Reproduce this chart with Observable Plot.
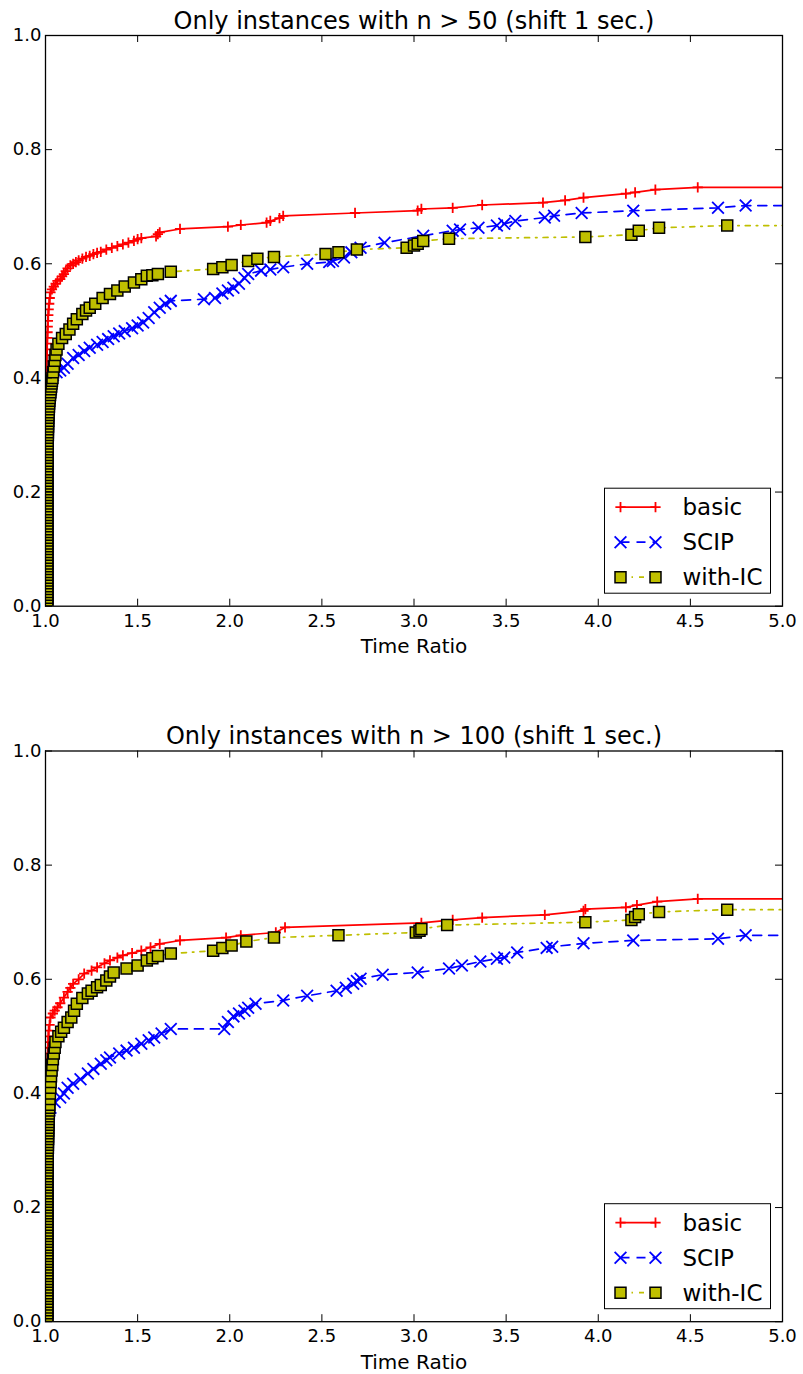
<!DOCTYPE html>
<html><head><meta charset="utf-8">
<script src="https://cdn.jsdelivr.net/npm/d3@7"></script>
<script src="https://cdn.jsdelivr.net/npm/@observablehq/plot@0.6"></script>
<style>body{margin:0;background:#fff}svg{display:block}</style>
</head><body><div id="chart"></div>
<script>
const xTicks = [1.0, 1.5, 2.0, 2.5, 3.0, 3.5, 4.0, 4.5, 5.0];
const yTicks = [0.0, 0.2, 0.4, 0.6, 0.8, 1.0];
const seriesNames = ["basic", "SCIP", "with-IC"];
const titles = ["Only instances with n > 50 (shift 1 sec.)", "Only instances with n > 100 (shift 1 sec.)"];
const xLabel = "Time Ratio";

// Panel 1: n > 50
const top_basic = [[1,0],[1,.04],[1,.08],[1,.12],[1,.16],[1,.2],[1,.24],[1,.28],[1,.32],[1,.36],[1.002,.39],[1.003,.40],[1.004,.41],[1.005,.42],[1.006,.43],[1.007,.44],[1.008,.45],[1.009,.46],[1.01,.47],[1.011,.48],[1.012,.49],[1.013,.50],[1.015,.51],[1.017,.52],[1.02,.53],[1.023,.54],[1.027,.55],[1.035,.555],[1.045,.56],[1.055,.565],[1.065,.57],[1.08,.573],[1.09,.578],[1.1,.582],[1.11,.587],[1.12,.592],[1.135,.597],[1.15,.60],[1.165,.603],[1.18,.606],[1.2,.609],[1.22,.612],[1.24,.614],[1.26,.617],[1.28,.619],[1.3,.621],[1.33,.625],[1.36,.628],[1.39,.631],[1.42,.634],[1.45,.637],[1.48,.64],[1.5,.643],[1.52,.645],[1.6,.648],[1.61,.652],[1.62,.655],[1.73,.661],[1.99,.665],[2.06,.668],[2.2,.672],[2.22,.675],[2.27,.68],[2.29,.684],[2.68,.689],[3.02,.693],[3.04,.696],[3.21,.698],[3.37,.703],[3.70,.707],[3.82,.711],[3.92,.716],[4.15,.723],[4.20,.725],[4.31,.730],[4.54,.734]];
const top_scip = [[1,0],[1,.05],[1,.1],[1,.15],[1,.2],[1,.25],[1,.3],[1.005,.35],[1.01,.38],[1.02,.395],[1.04,.405],[1.06,.41],[1.08,.413],[1.1,.418],[1.12,.425],[1.15,.435],[1.18,.44],[1.21,.447],[1.24,.453],[1.28,.458],[1.31,.463],[1.34,.468],[1.37,.473],[1.4,.478],[1.43,.482],[1.47,.487],[1.5,.492],[1.53,.497],[1.56,.505],[1.59,.515],[1.62,.523],[1.65,.53],[1.68,.535],[1.86,.538],[1.92,.54],[1.96,.548],[1.99,.553],[2.02,.558],[2.05,.565],[2.08,.575],[2.1,.582],[2.17,.588],[2.22,.59],[2.29,.594],[2.42,.60],[2.54,.603],[2.56,.605],[2.62,.611],[2.66,.62],[2.71,.628],[2.84,.637],[3.05,.649],[3.21,.658],[3.25,.66],[3.35,.663],[3.45,.667],[3.49,.670],[3.55,.675],[3.71,.681],[3.76,.684],[3.91,.689],[4.19,.693],[4.65,.698],[4.80,.702]];
const top_ic = [[1.01,0],[1.01,.005],[1.01,.01],[1.01,.015],[1.01,.02],[1.01,.025],[1.01,.03],[1.01,.035],[1.01,.04],[1.01,.045],[1.01,.05],[1.01,.055],[1.01,.06],[1.01,.065],[1.01,.07],[1.01,.075],[1.01,.08],[1.01,.085],[1.01,.09],[1.01,.095],[1.01,.10],[1.01,.105],[1.01,.11],[1.01,.115],[1.01,.12],[1.01,.125],[1.01,.13],[1.01,.135],[1.01,.14],[1.01,.145],[1.01,.15],[1.01,.155],[1.01,.16],[1.01,.165],[1.01,.17],[1.01,.175],[1.01,.18],[1.01,.185],[1.01,.19],[1.01,.195],[1.01,.20],[1.01,.205],[1.01,.21],[1.01,.215],[1.01,.22],[1.01,.225],[1.01,.23],[1.01,.235],[1.01,.24],[1.01,.245],[1.01,.25],[1.011,.255],[1.011,.26],[1.011,.265],[1.011,.27],[1.011,.275],[1.012,.28],[1.012,.285],[1.012,.29],[1.012,.295],[1.013,.30],[1.013,.305],[1.013,.31],[1.014,.315],[1.014,.32],[1.015,.325],[1.015,.33],[1.016,.335],[1.017,.34],[1.018,.345],[1.019,.35],[1.02,.355],[1.021,.36],[1.023,.365],[1.025,.37],[1.027,.375],[1.029,.38],[1.031,.385],[1.033,.39],[1.035,.395],[1.038,.40],[1.041,.41],[1.045,.42],[1.05,.43],[1.054,.44],[1.06,.45],[1.07,.46],[1.09,.47],[1.11,.477],[1.13,.485],[1.15,.495],[1.17,.503],[1.2,.512],[1.22,.518],[1.24,.523],[1.27,.53],[1.31,.54],[1.35,.547],[1.39,.553],[1.43,.56],[1.48,.567],[1.52,.573],[1.55,.579],[1.58,.58],[1.61,.582],[1.68,.586],[1.91,.591],[1.96,.594],[2.01,.598],[2.10,.605],[2.15,.609],[2.24,.612],[2.52,.617],[2.59,.62],[2.69,.625],[2.96,.628],[3.00,.632],[3.02,.635],[3.05,.640],[3.19,.644],[3.93,.647],[4.18,.651],[4.22,.658],[4.33,.663],[4.70,.667]];

// Panel 2: n > 100
const bot_basic = [[1,0],[1,.04],[1,.08],[1,.12],[1,.16],[1,.2],[1,.24],[1,.28],[1,.32],[1,.36],[1.002,.39],[1.004,.41],[1.005,.42],[1.007,.43],[1.008,.44],[1.01,.45],[1.011,.46],[1.012,.47],[1.013,.48],[1.015,.49],[1.016,.50],[1.017,.51],[1.022,.52],[1.027,.533],[1.04,.54],[1.05,.545],[1.065,.551],[1.08,.558],[1.1,.568],[1.12,.578],[1.135,.585],[1.15,.592],[1.18,.60],[1.21,.61],[1.25,.615],[1.28,.621],[1.32,.628],[1.35,.633],[1.39,.638],[1.42,.642],[1.47,.646],[1.52,.65],[1.57,.656],[1.62,.662],[1.73,.668],[1.98,.673],[2.06,.677],[2.25,.682],[2.30,.691],[3.04,.699],[3.21,.704],[3.37,.708],[3.71,.713],[3.92,.720],[3.93,.723],[4.15,.726],[4.21,.73],[4.32,.736],[4.54,.741]];
const bot_scip = [[1,0],[1,.05],[1,.1],[1,.15],[1,.2],[1,.25],[1,.3],[1.01,.35],[1.02,.37],[1.027,.375],[1.05,.385],[1.08,.393],[1.1,.40],[1.12,.41],[1.15,.417],[1.19,.425],[1.23,.435],[1.26,.443],[1.3,.452],[1.33,.458],[1.35,.463],[1.4,.47],[1.44,.475],[1.48,.48],[1.52,.487],[1.56,.493],[1.59,.498],[1.63,.505],[1.68,.513],[1.97,.513],[1.99,.525],[2.02,.535],[2.05,.54],[2.08,.545],[2.1,.55],[2.14,.557],[2.29,.563],[2.42,.571],[2.58,.580],[2.63,.585],[2.67,.592],[2.69,.597],[2.71,.601],[2.83,.608],[3.02,.612],[3.19,.619],[3.26,.624],[3.36,.631],[3.45,.636],[3.49,.638],[3.56,.647],[3.72,.655],[3.75,.657],[3.92,.663],[4.19,.668],[4.65,.671],[4.80,.677]];
const bot_ic = [[1.01,0],[1.01,.005],[1.01,.01],[1.01,.015],[1.01,.02],[1.01,.025],[1.01,.03],[1.01,.035],[1.01,.04],[1.01,.045],[1.01,.05],[1.01,.055],[1.01,.06],[1.01,.065],[1.01,.07],[1.01,.075],[1.01,.08],[1.01,.085],[1.01,.09],[1.01,.095],[1.01,.10],[1.01,.105],[1.01,.11],[1.01,.115],[1.01,.12],[1.01,.125],[1.01,.13],[1.01,.135],[1.01,.14],[1.01,.145],[1.01,.15],[1.01,.155],[1.01,.16],[1.01,.165],[1.01,.17],[1.01,.175],[1.01,.18],[1.01,.185],[1.01,.19],[1.01,.195],[1.01,.20],[1.01,.205],[1.01,.21],[1.01,.215],[1.01,.22],[1.01,.225],[1.01,.23],[1.01,.235],[1.01,.24],[1.01,.245],[1.01,.25],[1.01,.255],[1.01,.26],[1.011,.265],[1.011,.27],[1.011,.275],[1.011,.28],[1.012,.285],[1.012,.29],[1.012,.295],[1.012,.30],[1.013,.305],[1.013,.31],[1.013,.315],[1.014,.32],[1.014,.325],[1.014,.33],[1.015,.335],[1.015,.34],[1.016,.345],[1.016,.35],[1.017,.355],[1.017,.36],[1.018,.365],[1.019,.37],[1.02,.375],[1.021,.38],[1.022,.39],[1.024,.40],[1.026,.41],[1.028,.42],[1.03,.43],[1.033,.44],[1.037,.45],[1.04,.46],[1.045,.47],[1.05,.48],[1.054,.49],[1.07,.50],[1.085,.508],[1.1,.515],[1.12,.525],[1.14,.533],[1.155,.545],[1.17,.557],[1.2,.567],[1.23,.575],[1.25,.58],[1.28,.586],[1.3,.59],[1.33,.598],[1.35,.605],[1.37,.612],[1.44,.619],[1.50,.624],[1.55,.633],[1.58,.637],[1.61,.641],[1.68,.645],[1.91,.650],[1.96,.655],[2.01,.659],[2.09,.666],[2.24,.673],[2.59,.677],[3.01,.682],[3.03,.685],[3.04,.688],[3.18,.695],[3.93,.700],[4.18,.704],[4.20,.709],[4.22,.714],[4.33,.718],[4.70,.722]];

const styles = [
  {stroke: "#ff0000", dash: null, symbol: "plus", sym: d3.symbolPlus, r: 3.4, fill: "none", mstroke: "#ff0000", mw: 1.8},
  {stroke: "#0000ff", dash: "9,7", symbol: "times", sym: d3.symbolTimes, r: 5.4, fill: "none", mstroke: "#0000ff", mw: 1.8},
  {stroke: "#bfbf00", dash: "5,6,1.5,6", symbol: "square", sym: d3.symbolSquare, r: 6.2, fill: "#bfbf00", mstroke: "#000000", mw: 1.5}
];

const W = 803, H = 687, ML = 45, MR = 21;
const font = "DejaVu Sans, Verdana, sans-serif";

function panel(title, seriesList, mt, mb) {
  const ph = H - mt - mb, pw = W - ML - MR;
  const xMax = xTicks[xTicks.length - 1];
  const marks = [];
  seriesList.forEach((s, i) => {
    const st = styles[i];
    const lineData = s.concat([[xMax, s[s.length - 1][1]]]);
    marks.push(Plot.line(lineData, {x: d => d[0], y: d => d[1], stroke: st.stroke, strokeWidth: 1.7, strokeDasharray: st.dash, clip: true}));
    marks.push(Plot.dot(s, {x: d => d[0], y: d => d[1], symbol: () => st.symbol, r: st.r, fill: st.fill, stroke: st.mstroke, strokeWidth: st.mw, clip: true}));
  });
  marks.push(Plot.frame({stroke: "black", strokeWidth: 1.3}));
  marks.push(Plot.tickX(xTicks, {x: d => d, insetTop: ph - 7, stroke: "black", strokeWidth: 1}));
  marks.push(Plot.tickX(xTicks, {x: d => d, insetBottom: ph - 7, stroke: "black", strokeWidth: 1}));
  marks.push(Plot.tickY(yTicks, {y: d => d, insetRight: pw - 7, stroke: "black", strokeWidth: 1}));
  marks.push(Plot.tickY(yTicks, {y: d => d, insetLeft: pw - 7, stroke: "black", strokeWidth: 1}));
  marks.push(Plot.axisX({ticks: xTicks, tickSize: 0, tickPadding: 8, tickFormat: d3.format(".1f"), label: null, fontSize: 18, fill: "black"}));
  marks.push(Plot.axisX({ticks: [], tickSize: 0, label: xLabel, labelAnchor: "center", labelArrow: "none", labelOffset: 47, fontSize: 20, fill: "black"}));
  marks.push(Plot.axisY({ticks: yTicks, tickSize: 0, tickPadding: 4, tickFormat: d3.format(".1f"), label: null, fontSize: 18, fill: "black"}));
  marks.push(Plot.text([title], {text: d => d, frameAnchor: "top", lineAnchor: "bottom", dy: -7, fontSize: 24, fill: "black"}));

  const svg = Plot.plot({
    width: W, height: H,
    marginLeft: ML, marginRight: MR, marginTop: mt, marginBottom: mb,
    x: {domain: [xTicks[0], xMax]},
    y: {domain: [yTicks[0], yTicks[yTicks.length - 1]]},
    style: {fontFamily: font, fontSize: "18px", color: "black", background: "white"},
    marks
  });

  // legend
  const fr = W - MR, fb = H - mb;
  const bw = 166, bh = 105;
  const bx = fr - 11.5 - bw, by = fb - 12.5 - bh;
  const g = d3.select(svg).append("g").attr("text-anchor", "start");
  g.append("rect").attr("x", bx).attr("y", by).attr("width", bw).attr("height", bh)
    .attr("fill", "white").attr("stroke", "black").attr("stroke-width", 1);
  seriesNames.forEach((name, i) => {
    const st = styles[i];
    const yy = by + 19 + i * 35;
    const x1 = bx + 16, x2 = bx + 51;
    g.append("line").attr("x1", x1).attr("x2", x2).attr("y1", yy).attr("y2", yy)
      .attr("stroke", st.stroke).attr("stroke-width", 1.7).attr("stroke-dasharray", st.dash);
    [x1, x2].forEach(xx => {
      g.append("path").attr("d", d3.symbol(st.sym, Math.PI * st.r * st.r)())
        .attr("transform", `translate(${xx},${yy})`)
        .attr("fill", st.fill).attr("stroke", st.mstroke).attr("stroke-width", st.mw);
    });
    g.append("text").attr("x", bx + 78).attr("y", yy).attr("dy", "0.36em")
      .attr("text-anchor", "start")
      .attr("font-size", 23).attr("font-family", font).attr("fill", "black").text(name);
  });
  return svg;
}

const root = document.getElementById("chart");
root.appendChild(panel(titles[0], [top_basic, top_scip, top_ic], 35, 81.3));
root.appendChild(panel(titles[1], [bot_basic, bot_scip, bot_ic], 63.5, 52.8));
</script></body></html>
